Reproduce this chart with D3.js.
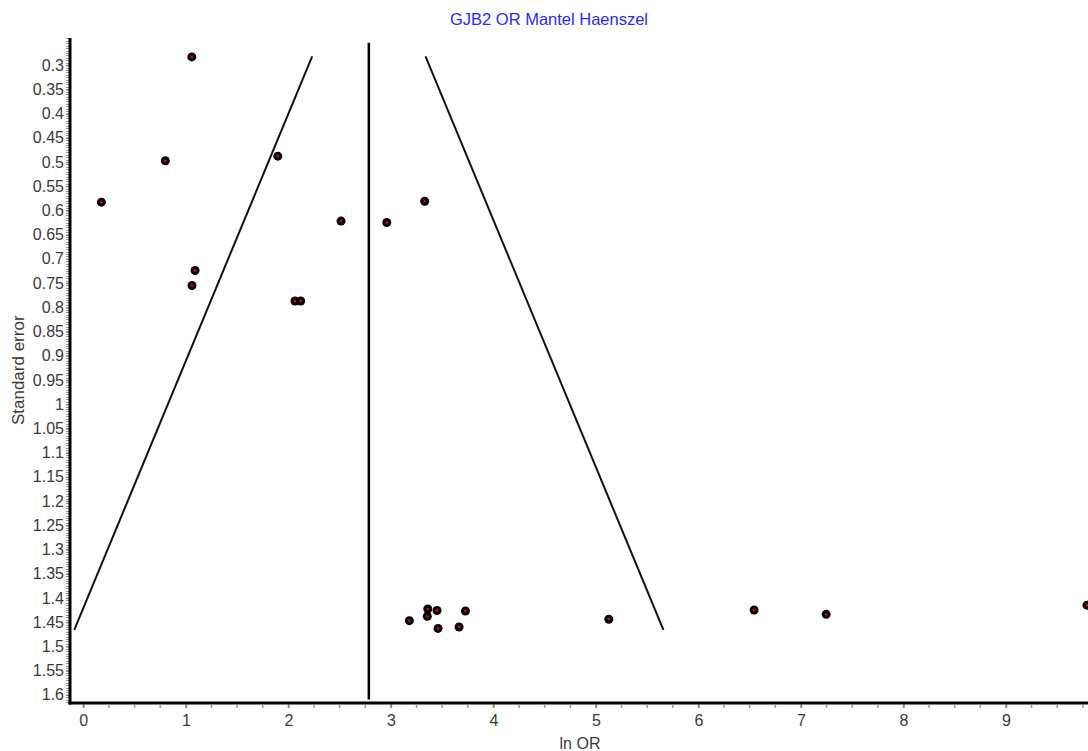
<!DOCTYPE html>
<html><head><meta charset="utf-8">
<script src="https://cdn.jsdelivr.net/npm/d3@7"></script>
<style>
body{margin:0;background:#fff;}
svg{display:block;font-family:"Liberation Sans",Arial,sans-serif;}
</style></head><body>
<svg id="c" width="1088" height="751"></svg>
<script>
const title = "GJB2 OR Mantel Haenszel";
const xLabel = "ln OR";
const yLabel = "Standard error";
const lnOR = [1.058, 0.80, 1.897, 0.176, 2.514, 2.96, 3.33, 1.09, 1.06, 2.065, 2.12,
              3.18, 3.36, 3.355, 3.45, 3.46, 3.665, 3.727, 5.126, 6.543, 7.246, 9.79];
const seVals = [0.283, 0.4975, 0.488, 0.583, 0.622, 0.625, 0.581, 0.724, 0.755, 0.787, 0.787,
              1.447, 1.423, 1.438, 1.426, 1.463, 1.460, 1.427, 1.444, 1.425, 1.434, 1.415];
const pooled = 2.785;
const funnelSE = [0.282, 1.466];
const pooledLineSE = [0.254, 1.61];
const xTicks = [0,1,2,3,4,5,6,7,8,9];
const yTicks = [0.3,0.35,0.4,0.45,0.5,0.55,0.6,0.65,0.7,0.75,0.8,0.85,0.9,0.95,1,1.05,1.1,1.15,1.2,1.25,1.3,1.35,1.4,1.45,1.5,1.55,1.6];

const svg = d3.select("#c");
const x = d3.scaleLinear().domain([-0.13, 9.80]).range([70, 1088]);
const y = d3.scaleLinear().domain([0.244, 1.617]).range([38, 703]);

// title
svg.append("text").attr("x", 549).attr("y", 25).attr("text-anchor","middle")
  .attr("fill","#2b2bf0").attr("font-size","16.5px").text(title);

// y minor ticks
const yMinor = d3.range(0.245, 1.617, 0.005);
svg.append("g").selectAll("line").data(yMinor).join("line")
  .attr("x1",66).attr("x2",69).attr("y1",d=>Math.round(y(d))+0.5).attr("y2",d=>Math.round(y(d))+0.5)
  .attr("stroke","#999").attr("stroke-width",1);

// y axis
const yAxis = d3.axisLeft(y).tickValues(yTicks).tickSize(4).tickFormat(d3.format("~g"));
const gy = svg.append("g").attr("transform","translate(70,0)").call(yAxis);
gy.select(".domain").remove();
gy.selectAll(".tick line").attr("stroke","#888").attr("stroke-width",1.5);
gy.selectAll(".tick text").attr("font-size","16px").attr("fill","#3a3a3a")
  .attr("font-family","'Liberation Sans',Arial,sans-serif").attr("x",-6);

// x axis
const xMinor = d3.range(-0.0, 9.80, 0.25);
svg.append("g").selectAll("line").data(xMinor).join("line")
  .attr("x1",d=>x(d)).attr("x2",d=>x(d)).attr("y1",705).attr("y2",708)
  .attr("stroke","#999").attr("stroke-width",1.5);
const xAxis = d3.axisBottom(x).tickValues(xTicks).tickSize(5).tickFormat(d3.format("d"));
const gx = svg.append("g").attr("transform","translate(0,703)").call(xAxis);
gx.select(".domain").remove();
gx.selectAll(".tick line").attr("stroke","#888").attr("stroke-width",1.5);
gx.selectAll(".tick text").attr("font-size","16px").attr("fill","#3a3a3a")
  .attr("font-family","'Liberation Sans',Arial,sans-serif").attr("dy","0.95em");

// axis lines
svg.append("line").attr("x1",70).attr("x2",70).attr("y1",38).attr("y2",704.5)
  .attr("stroke","#000").attr("stroke-width",3);
svg.append("line").attr("x1",68.5).attr("x2",1088).attr("y1",703).attr("y2",703)
  .attr("stroke","#000").attr("stroke-width",3);

// axis labels
svg.append("text").attr("x",580).attr("y",749).attr("text-anchor","middle")
  .attr("font-size","16px").attr("fill","#3a3a3a").text(xLabel);
svg.append("text").attr("transform","translate(24,"+y(0.93)+") rotate(-90)").attr("text-anchor","middle")
  .attr("font-size","17px").attr("fill","#3a3a3a").text(yLabel);

// pooled line
svg.append("line").attr("x1",x(pooled)).attr("x2",x(pooled))
  .attr("y1",y(pooledLineSE[0])).attr("y2",y(pooledLineSE[1]))
  .attr("stroke","#000").attr("stroke-width",2.5);

// funnel
const line = d3.line().x(d=>x(d[0])).y(d=>y(d[1]));
[-1,1].forEach(s=>{
  svg.append("path").attr("d", line(funnelSE.map(se=>[pooled + s*1.96*se, se])))
    .attr("fill","none").attr("stroke","#111").attr("stroke-width",2);
});

// points
const pts = lnOR.map((v,i)=>({x:v, se:seVals[i]}));
const gp = svg.append("g");
gp.selectAll("circle.o").data(pts).join("circle").attr("class","o")
  .attr("cx",d=>x(d.x)).attr("cy",d=>y(d.se)).attr("r",4.5).attr("fill","#000");
gp.selectAll("circle.i").data(pts).join("circle").attr("class","i")
  .attr("cx",d=>x(d.x)).attr("cy",d=>y(d.se)).attr("r",1.4).attr("fill","#e00000");
</script>
</body></html>
